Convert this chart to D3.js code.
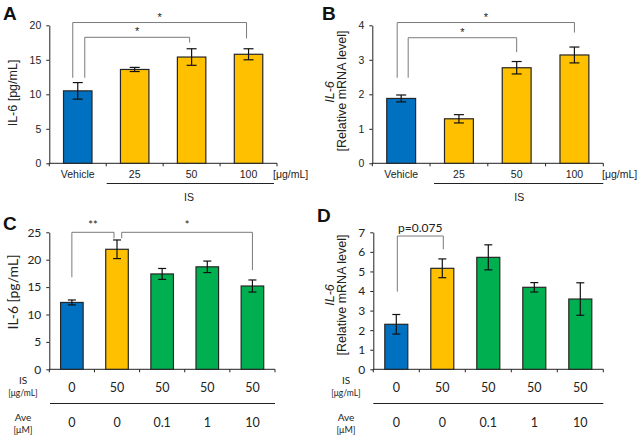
<!DOCTYPE html>
<html><head><meta charset="utf-8">
<script src="https://cdn.jsdelivr.net/npm/d3@7"></script>
<style>body{margin:0;background:#fff}svg{display:block}</style>
</head><body><svg id="c" width="640" height="438"></svg>
<script>
// ---------- data ----------
const catsAB = ["Vehicle", "25", "50", "100"];
const aVals = [10.5, 13.6, 15.4, 15.8];
const aErr  = [1.2, 0.3, 1.2, 0.8];
const bVals = [1.88, 1.29, 2.77, 3.14];
const bErr  = [0.1, 0.12, 0.18, 0.23];
const colorsAB = ["#0070C0", "#FFC000", "#FFC000", "#FFC000"];

const isRow  = ["0", "50", "50", "50", "50"];
const aveRow = ["0", "0", "0.1", "1", "10"];
const cVals = [12.2, 21.9, 17.4, 18.7, 15.2];
const cErr  = [0.45, 1.7, 1.0, 1.05, 1.1];
const dVals = [2.3, 5.16, 5.72, 4.19, 3.59];
const dErr  = [0.5, 0.48, 0.64, 0.24, 0.83];
const colorsCD = ["#0070C0", "#FFC000", "#00B050", "#00B050", "#00B050"];

const aTicks = [0, 5, 10, 15, 20];
const bTicks = [0, 1, 2, 3, 4];
const cTicks = [0, 5, 10, 15, 20, 25];
const dTicks = [0, 1, 2, 3, 4, 5, 6, 7];

// brackets: [fromIdx, toIdx, level, legFrom, legTo, label]
const aBrackets = [[0, 3, 20.4, 12.4, 18.1, "*"], [0, 2, 18.26, 12.4, 17.5, "*"]];
const bBrackets = [[0, 3, 4.08, 2.48, 3.79, "*"], [0, 2, 3.64, 2.48, 3.22, "*"]];
const cBrackets = [[0, 1, 25, 16.8, 23.9, "**"], [1, 4, 25, 23.9, 18.1, "*"]];
const dBrackets = [[0, 1, 6.81, 3.97, 6.13, "p=0.075"]];

const svg = d3.select("#c");
const AB_FONT = "'Liberation Sans', Arial, sans-serif";
const CD_FONT = "Lato, 'Open Sans', sans-serif";

function panel(o) {
  const g = svg.append("g");
  const x = d3.scaleBand().domain(d3.range(o.vals.length)).range([o.x0, o.x1])
    .paddingInner(0.5).paddingOuter(0.25);
  const y = d3.scaleLinear().domain([0, o.ymax]).range([o.y0, o.y1]);
  const step = x.step();
  // y axis
  const ya = g.append("g").attr("transform", `translate(${o.x0},0)`)
    .call(d3.axisLeft(y).tickValues(o.ticks).tickFormat(d => String(d)).tickSize(3).tickSizeOuter(0).tickPadding(5));
  ya.select(".domain").attr("stroke", "#222");
  ya.selectAll(".tick line").attr("stroke", "#222");
  ya.selectAll("text").attr("font-family", o.font).attr("font-size", o.tickFs).attr("fill", "#222");
  // x axis line + boundary ticks
  g.append("line").attr("x1", o.x0).attr("x2", o.x1).attr("y1", o.y0).attr("y2", o.y0)
    .attr("stroke", "#222");
  const bounds = d3.range(o.vals.length + 1).map(i =>
    i < o.vals.length ? x(i) - step * 0.25 : x(i - 1) + x.bandwidth() + step * 0.25);
  g.selectAll(".bt").data(bounds).join("line")
    .attr("x1", d => d).attr("x2", d => d).attr("y1", o.y0).attr("y2", o.y0 + 3)
    .attr("stroke", "#222");
  // bars
  g.selectAll(".bar").data(o.vals).join("rect")
    .attr("x", (d, i) => x(i)).attr("width", x.bandwidth())
    .attr("y", d => y(d)).attr("height", d => o.y0 - y(d))
    .attr("fill", (d, i) => o.colors[i]).attr("stroke", "#262626").attr("stroke-width", 1.2);
  // error bars
  const cx = i => x(i) + x.bandwidth() / 2;
  const eg = g.selectAll(".eb").data(o.vals).join("g");
  eg.append("line").attr("x1", (d, i) => cx(i)).attr("x2", (d, i) => cx(i))
    .attr("y1", (d, i) => y(d - o.err[i])).attr("y2", (d, i) => y(d + o.err[i]))
    .attr("stroke", "#111").attr("stroke-width", 1.2);
  [1, -1].forEach(s => {
    eg.append("line").attr("x1", (d, i) => cx(i) - o.cap / 2).attr("x2", (d, i) => cx(i) + o.cap / 2)
      .attr("y1", (d, i) => y(d + s * o.err[i])).attr("y2", (d, i) => y(d + s * o.err[i]))
      .attr("stroke", "#111").attr("stroke-width", 1.2);
  });
  // brackets
  o.brackets.forEach((b, k) => {
    const xa = cx(b[0]) + o.bdx[k][0], xb = cx(b[1]) + o.bdx[k][1];
    const yl = y(b[2]);
    g.append("path").attr("d", `M${xa},${y(b[3])}V${yl}H${xb}V${y(b[4])}`)
      .attr("fill", "none").attr("stroke", "#7a7a7a").attr("stroke-width", 1);
    g.append("text").attr("x", (xa + xb) / 2).attr("y", yl - o.labOff)
      .attr("text-anchor", "middle").attr("font-family", o.font)
      .attr("font-size", b[5].length > 2 ? o.pFs : 11).attr("fill", "#222").text(b[5]);
  });
  return {x, y, cx, g};
}

function letter(t, x, y) {
  svg.append("text").attr("x", x).attr("y", y).attr("font-family", "'Liberation Sans', Arial, sans-serif")
    .attr("font-weight", "bold").attr("font-size", 19).attr("fill", "#111").text(t);
}
function ylab(g, txt, x, y, font, fs, italic) {
  g.append("text").attr("transform", `translate(${x},${y}) rotate(-90)`).attr("text-anchor", "middle")
    .attr("font-family", font).attr("font-style", italic ? "italic" : "normal")
    .attr("font-size", fs).attr("fill", "#222").text(txt);
}

// ---- Panel A ----
const pA = panel({vals: aVals, err: aErr, colors: colorsAB, x0: 49.3, x1: 277, y0: 163.3, y1: 25.3,
  ymax: 20, ticks: aTicks, font: AB_FONT, tickFs: 10.5, cap: 10, brackets: aBrackets,
  bdx: [[-5, -2], [7, -2]], labOff: 2, pFs: 11});
pA.g.selectAll(".xl").data(catsAB).join("text").attr("x", (d, i) => pA.cx(i)).attr("y", 178)
  .attr("text-anchor", "middle").attr("font-family", AB_FONT).attr("font-size", 10.5).attr("fill", "#222").text(d => d);
pA.g.append("text").attr("x", 273).attr("y", 178).attr("font-family", AB_FONT).attr("font-size", 10.5).attr("fill", "#222").text("[μg/mL]");
pA.g.append("line").attr("x1", 106.7).attr("x2", 274).attr("y1", 183.5).attr("y2", 183.5).attr("stroke", "#222");
pA.g.append("text").attr("x", 189).attr("y", 201).attr("text-anchor", "middle").attr("font-family", AB_FONT).attr("font-size", 10.5).attr("fill", "#222").text("IS");
ylab(pA.g, "IL-6 [pg/mL]", 17, 93, AB_FONT, 12.5, false);
letter("A", 3, 20);

// ---- Panel B ----
const pB = panel({vals: bVals, err: bErr, colors: colorsAB, x0: 372.3, x1: 603.3, y0: 163.3, y1: 25.3,
  ymax: 4, ticks: bTicks, font: AB_FONT, tickFs: 10.5, cap: 10, brackets: bBrackets,
  bdx: [[-4, 0], [7, 0]], labOff: 2, pFs: 11});
pB.g.selectAll(".xl").data(catsAB).join("text").attr("x", (d, i) => pB.cx(i)).attr("y", 178)
  .attr("text-anchor", "middle").attr("font-family", AB_FONT).attr("font-size", 10.5).attr("fill", "#222").text(d => d);
pB.g.append("text").attr("x", 602).attr("y", 178).attr("font-family", AB_FONT).attr("font-size", 10.5).attr("fill", "#222").text("[μg/mL]");
pB.g.append("line").attr("x1", 434).attr("x2", 603.3).attr("y1", 183.5).attr("y2", 183.5).attr("stroke", "#222");
pB.g.append("text").attr("x", 519.3).attr("y", 201).attr("text-anchor", "middle").attr("font-family", AB_FONT).attr("font-size", 10.5).attr("fill", "#222").text("IS");
ylab(pB.g, "IL-6", 334, 92, AB_FONT, 12.5, true);
ylab(pB.g, "[Relative mRNA level]", 346, 91, AB_FONT, 12.5, false);
letter("B", 322, 20);

// ---- Panel C & D rows ----
function rows(p, lx, lineX0, lineX1) {
  const t = (txt, x, y, fs) => p.g.append("text").attr("x", x).attr("y", y).attr("text-anchor", "middle")
    .attr("dominant-baseline", "middle").attr("font-family", CD_FONT).attr("font-size", fs).attr("fill", "#222").text(txt);
  isRow.forEach((d, i) => t(d, p.cx(i), 388.5, 12.5));
  aveRow.forEach((d, i) => t(d, p.cx(i), 424, 12.5));
  t("IS", lx, 381, 10); t("[μg/mL]", lx, 394, 8.5);
  t("Ave", lx, 418, 10); t("[μM]", lx, 431, 9);
  p.g.append("line").attr("x1", lineX0).attr("x2", lineX1).attr("y1", 403.5).attr("y2", 403.5).attr("stroke", "#222");
}

const pC = panel({vals: cVals, err: cErr, colors: colorsCD, x0: 49.3, x1: 275, y0: 369.3, y1: 232.3,
  ymax: 25, ticks: cTicks, font: CD_FONT, tickFs: 12, cap: 8, brackets: cBrackets,
  bdx: [[0, -3], [4.7, 0]], labOff: 3, pFs: 11});
rows(pC, 23, 50, 275);
ylab(pC.g, "IL-6 [pg/mL]", 18, 292, CD_FONT, 14, false);
letter("C", 3, 230);

const pD = panel({vals: dVals, err: dErr, colors: colorsCD, x0: 373.3, x1: 603.3, y0: 369.3, y1: 232.3,
  ymax: 7, ticks: dTicks, font: CD_FONT, tickFs: 12, cap: 8, brackets: dBrackets,
  bdx: [[1, 1]], labOff: 4, pFs: 12});
rows(pD, 346, 373.3, 603.3);
ylab(pD.g, "IL-6", 334, 295, AB_FONT, 12.5, true);
ylab(pD.g, "[Relative mRNA level]", 346, 295, AB_FONT, 12.5, false);
letter("D", 317, 222);
</script></body></html>
